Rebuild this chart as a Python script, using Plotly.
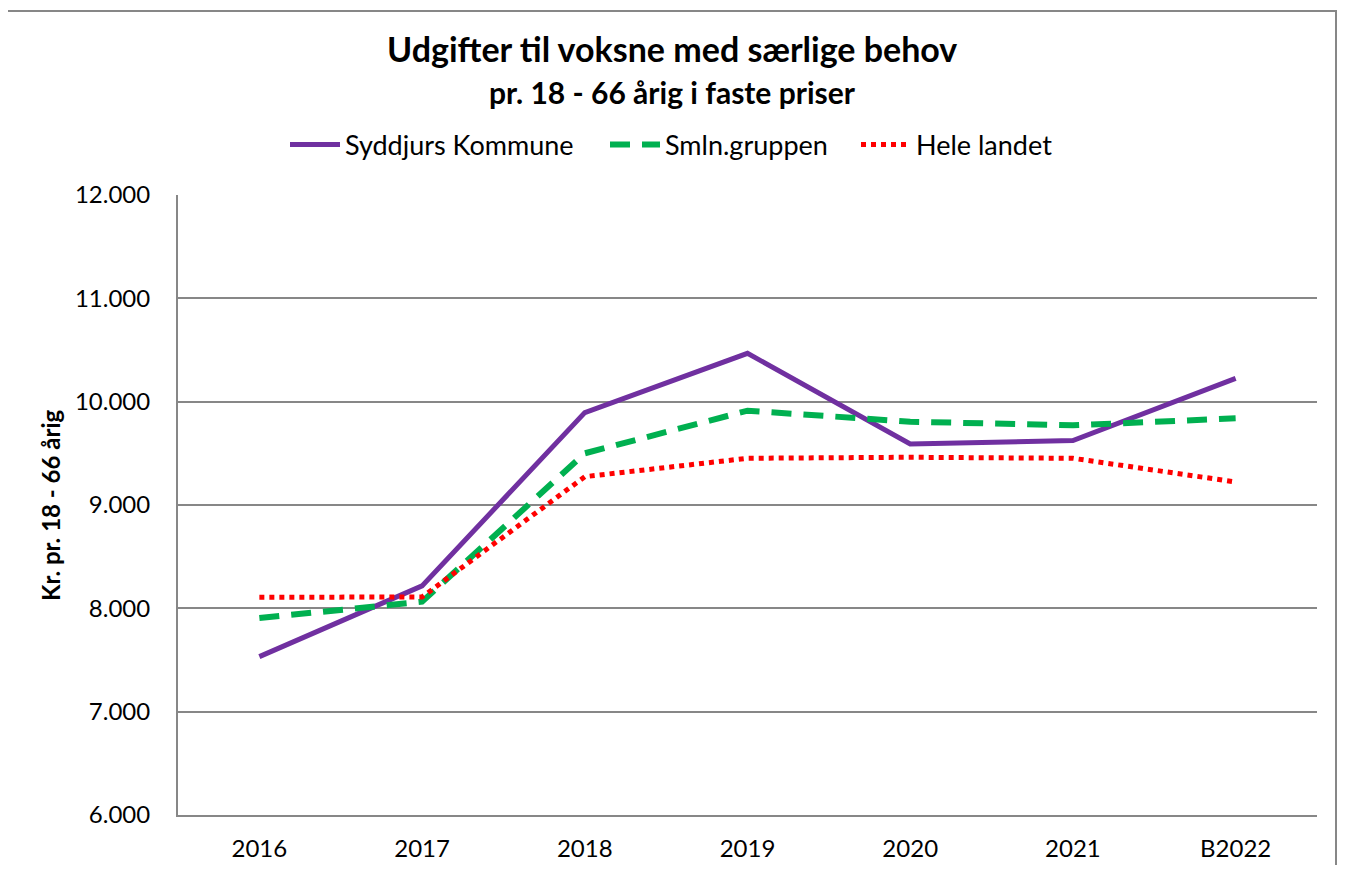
import plotly.graph_objects as go

categories = ["2016", "2017", "2018", "2019", "2020", "2021", "B2022"]
syddjurs = [7533, 8217, 9894, 10468, 9590, 9623, 10226]
smln = [7906, 8064, 9500, 9913, 9806, 9771, 9839]
hele = [8107, 8110, 9274, 9452, 9462, 9452, 9223]
y_ticks = [6000, 7000, 8000, 9000, 10000, 11000, 12000]

OFF = 8  # default page body margin
W, H = 1346 - 2 * OFF, 873 - 2 * OFF
# plot area in page pixels
PL, PR, PT, PB = 178, 1317, 195, 815
L, R, T, B = PL - OFF, PR - OFF, PT - OFF, PB - OFF
FONT = "Lato"

def px_x(p):
    return (p - PL) / (PR - PL)

def px_y(p):
    return (PB - p) / (PB - PT)

fig = go.Figure()
fig.add_trace(go.Scatter(x=categories, y=syddjurs, mode="lines", name="Syddjurs Kommune",
                         line=dict(color="#7030A0", width=5), legend="legend"))
fig.add_trace(go.Scatter(x=categories, y=smln, mode="lines", name="Smln.gruppen",
                         line=dict(color="#00B050", width=6, dash="20px,12px"), legend="legend2"))
fig.add_trace(go.Scatter(x=categories, y=hele, mode="lines", name="Hele landet",
                         line=dict(color="#FF0000", width=5, dash="dot"), legend="legend3"))

def leg(xpx):
    return dict(orientation="h", xref="paper", yref="paper",
                x=px_x(xpx), xanchor="left", y=px_y(145), yanchor="middle",
                font=dict(size=27, family=FONT), itemwidth=50,
                bgcolor="rgba(0,0,0,0)")

fig.update_layout(
    width=W, height=H,
    margin=dict(l=L, r=W - R, t=T, b=H - B, pad=0, autoexpand=False),
    paper_bgcolor="white", plot_bgcolor="white",
    separators=",.",
    font=dict(family=FONT, color="black", size=24),
    showlegend=True,
    legend=leg(285), legend2=leg(605), legend3=leg(856),
    xaxis=dict(type="category", range=[-0.5, 6.5], showgrid=False, ticks="",
               showline=True, linecolor="#878787", linewidth=2, automargin=False,
               tickfont=dict(size=24, family=FONT), ticklabelstandoff=11, fixedrange=True),
    yaxis=dict(range=[6000, 12000], tickvals=y_ticks, tickformat=",.0f",
               showgrid=True, gridcolor="#878787", gridwidth=1.5, automargin=False,
               showline=True, linecolor="#878787", linewidth=2, ticks="",
               zeroline=False, tickfont=dict(size=24, family=FONT), ticklabelstandoff=21),
    annotations=[
        dict(text="<b>Udgifter til voksne med særlige behov</b>", xref="paper", yref="paper",
             x=px_x(672), y=px_y(49), xanchor="center", yanchor="middle", showarrow=False,
             font=dict(size=34, family=FONT)),
        dict(text="<b>pr. 18 - 66 årig i faste priser</b>", xref="paper", yref="paper",
             x=px_x(672), y=px_y(92), xanchor="center", yanchor="middle", showarrow=False,
             font=dict(size=30, family=FONT)),
        dict(text="<b>Kr. pr. 18 - 66 årig</b>", xref="paper", yref="paper",
             x=px_x(50), y=px_y(505), xanchor="center", yanchor="middle", showarrow=False,
             textangle=-90, font=dict(size=24, family=FONT)),
    ],
    shapes=[
        dict(type="rect", xref="paper", yref="paper",
             x0=px_x(6), x1=px_x(1336), y0=px_y(890), y1=px_y(11),
             line=dict(color="#878787", width=2), fillcolor="rgba(0,0,0,0)", layer="below"),
    ],
)

fig.write_html("out.html")
